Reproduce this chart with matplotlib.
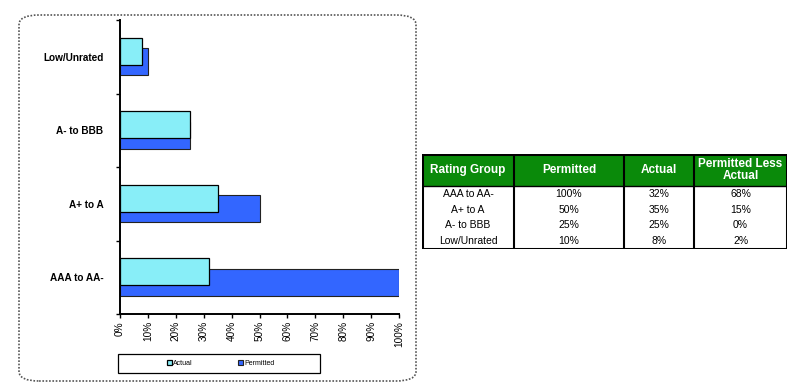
import numpy as np
import matplotlib
matplotlib.use("Agg")
import matplotlib.pyplot as plt
from matplotlib.patches import FancyBboxPatch, Rectangle

plt.rcParams['font.family'] = ['Liberation Sans', 'DejaVu Sans']

# данные
groups = ["AAA to AA-", "A+ to A", "A- to BBB", "Low/Unrated"]
permitted = [100, 50, 25, 10]
actual = [32, 35, 25, 8]
less = [68, 15, 0, 2]
x_ticks = list(range(0, 101, 10))
table_head = ["Rating Group", "Permitted", "Actual", "Permitted Less\nActual"]

W, H = 802, 389
fig = plt.figure(figsize=(W / 100, H / 100), dpi=100)

# рамка вокруг графика
frame = FancyBboxPatch((19 / W, 1 - 381 / H), (416 - 19) / W, (381 - 15) / H,
                       boxstyle="round,pad=0,rounding_size=0.025",
                       transform=fig.transFigure, fill=False,
                       edgecolor="#555555", linestyle=(0, (1, 1)), lw=1.2)
fig.patches.append(frame)

ax = fig.add_axes([120 / W, 1 - 314 / H, (399 - 120) / W, (314 - 20) / H])
y = np.arange(len(groups))
h = 0.37
ax.barh(y - 0.068, permitted, height=h, color="#3366ff", edgecolor="#222222",
        lw=0.8, label="Permitted", zorder=2)
ax.barh(y + 0.075, actual, height=h, color="#88eef8", edgecolor="black",
        lw=0.9, label="Actual", zorder=3)

ax.set_xlim(0, 100)
ax.set_ylim(-0.5, len(groups) - 0.5)
ax.set_xticks(x_ticks)
ax.set_xticklabels([f"{v}%" for v in x_ticks], rotation=90, fontsize=7.2)
ax.set_yticks(y)
ax.set_yticklabels(groups, fontsize=7.2, fontweight="bold")
ax.set_yticks(np.arange(-0.5, len(groups)), minor=True)
ax.tick_params(axis="y", which="major", length=0, pad=12)
ax.tick_params(axis="y", which="minor", length=3, width=1, direction="out")
ax.tick_params(axis="x", length=3, width=1, direction="out", pad=2)
for s in ["top", "right"]:
    ax.spines[s].set_visible(False)
ax.spines["left"].set_linewidth(1.4)
ax.spines["bottom"].set_linewidth(1.4)

# легенда
lx0, lx1, ly0, ly1 = 118, 320, 354, 373
fig.patches.append(Rectangle((lx0 / W, 1 - ly1 / H), (lx1 - lx0) / W, (ly1 - ly0) / H,
                             transform=fig.transFigure, fill=False,
                             edgecolor="black", lw=0.9))
hnd, lab = ax.get_legend_handles_labels()
leg = fig.legend(hnd[::-1], lab[::-1], loc="center",
                 bbox_to_anchor=((lx0 + lx1) / 2 / W + 0.002, 1 - (ly0 + ly1) / 2 / H),
                 ncol=2, fontsize=5, frameon=False,
                 handlelength=0.7, handleheight=0.7, handletextpad=0.2,
                 columnspacing=6.5)

# таблица
tx0, tx1, ty0, ty1 = 422, 787, 154, 249
tab = fig.add_axes([tx0 / W, 1 - ty1 / H, (tx1 - tx0) / W, (ty1 - ty0) / H])
tab.set_xlim(0, tx1 - tx0)
tab.set_ylim(ty1 - ty0, 0)
tab.axis("off")
cols = [0, 514 - tx0, 624 - tx0, 694 - tx0, tx1 - tx0]
head_h = 186 - ty0
tab.add_patch(Rectangle((0, 0), cols[-1], head_h, facecolor="#0a8a0a", edgecolor="none"))
for i, t in enumerate(table_head):
    cx = (cols[i] + cols[i + 1]) / 2
    tab.text(cx, head_h / 2, t, ha="center", va="center", color="white",
             fontsize=8.5, fontweight="bold", linespacing=0.95)
rows = [[g, f"{p}%", f"{a}%", f"{d}%"] for g, p, a, d in zip(groups, permitted, actual, less)]
row_h = (ty1 - ty0 - head_h) / len(rows)
for r, row in enumerate(rows):
    cy = head_h + row_h * (r + 0.5)
    for i, t in enumerate(row):
        cx = (cols[i] + cols[i + 1]) / 2
        tab.text(cx, cy, t, ha="center", va="center", color="black", fontsize=7.5)
for c in cols[1:-1]:
    tab.plot([c, c], [0, ty1 - ty0], color="black", lw=1.5)
tab.plot([0, cols[-1]], [head_h, head_h], color="black", lw=1)
tab.add_patch(Rectangle((0, 0), cols[-1], ty1 - ty0, fill=False, edgecolor="black", lw=2.2))

fig.savefig("out.png", dpi=100)
